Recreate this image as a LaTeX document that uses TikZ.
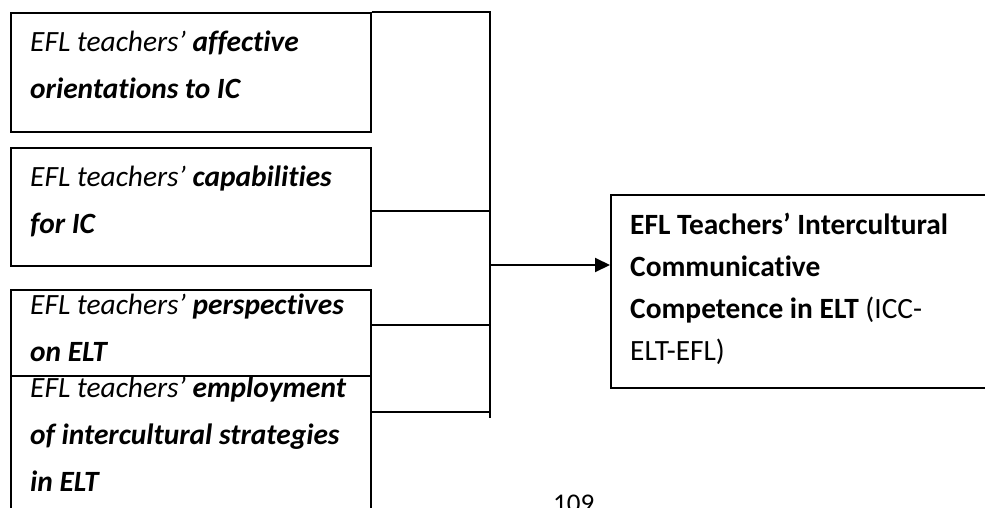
\documentclass[tikz,border=0pt]{standalone}
\usepackage{fontspec}
\setmainfont{Carlito}[Ligatures={NoCommon}]
\usetikzlibrary{arrows.meta}

\tikzset{
  factor/.style={draw, line width=1.7pt, anchor=north west, minimum width=360pt, inner sep=0pt},
  factortext/.style={anchor=north west, align=left, inner sep=0pt, font=\fontsize{29.4}{47}\selectfont},
  outcometext/.style={anchor=north west, align=left, inner sep=0pt, font=\fontsize{29.4}{42}\selectfont},
  link/.style={line width=2pt},
}

\begin{document}
\begin{tikzpicture}[x=1pt,y=1pt]
  \clip (0,0) rectangle (985,-508);

  % factor boxes on the left
  \node[factor, minimum height=119pt] (affect) at (10,-12) {};
  \node[factor, minimum height=118pt] (capab) at (10,-147) {};
  \node[factor, minimum height=86pt] (persp) at (10,-289) {};
  \node[factor, minimum height=160pt] (employ) at (10,-375) {};

  \node[factortext] (affect-t) at ([shift={(20,-19)}]affect.north west)
    {\textit{EFL teachers’} \textbf{\textit{affective}}\\\textbf{\textit{orientations to IC}}};
  \node[factortext] (capab-t) at ([shift={(20,-19)}]capab.north west)
    {\textit{EFL teachers’} \textbf{\textit{capabilities}}\\\textbf{\textit{for IC}}};
  \node[factortext] (persp-t) at ([shift={(20,-5)}]persp.north west)
    {\textit{EFL teachers’} \textbf{\textit{perspectives}}\\\textbf{\textit{on ELT}}};
  \node[factortext] (employ-t) at ([shift={(20,-2)}]employ.north west)
    {\textit{EFL teachers’} \textbf{\textit{employment}}\\\textbf{\textit{of intercultural strategies}}\\\textbf{\textit{in ELT}}};

  % outcome box
  \node[factor, minimum width=400pt, minimum height=193pt] (icc) at (610,-194) {};
  \node[outcometext] (icc-t) at ([shift={(20,-19)}]icc.north west)
    {\textbf{EFL Teachers’ Intercultural}\\\textbf{Communicative}\\\textbf{Competence in ELT} (ICC-\\ELT-EFL)};

  % the bus joining the factors
  \coordinate (bus-top) at (490,-12);
  \coordinate (bus-end) at (490,-418);
  \coordinate (bus-capab) at (490,-211);
  \coordinate (bus-persp) at (490,-325);
  \coordinate (bus-employ) at (490,-412);
  \coordinate (bus-out) at (490,-265);

  \draw[link] (affect.north east) -- (bus-top) -- (bus-end);
  \draw[link] (bus-capab -| capab.east) -- (bus-capab);
  \draw[link] (bus-persp -| persp.east) -- (bus-persp);
  \draw[link] (bus-employ -| employ.east) -- (bus-employ);
  \draw[link, -{Triangle[length=15pt,width=14pt]}] (bus-out) -- (bus-out -| icc.west);

  % page number
  \node[anchor=north west, inner sep=0pt, font=\fontsize{27}{30}\selectfont] (page) at (553,-495) {109};
\end{tikzpicture}
\end{document}
